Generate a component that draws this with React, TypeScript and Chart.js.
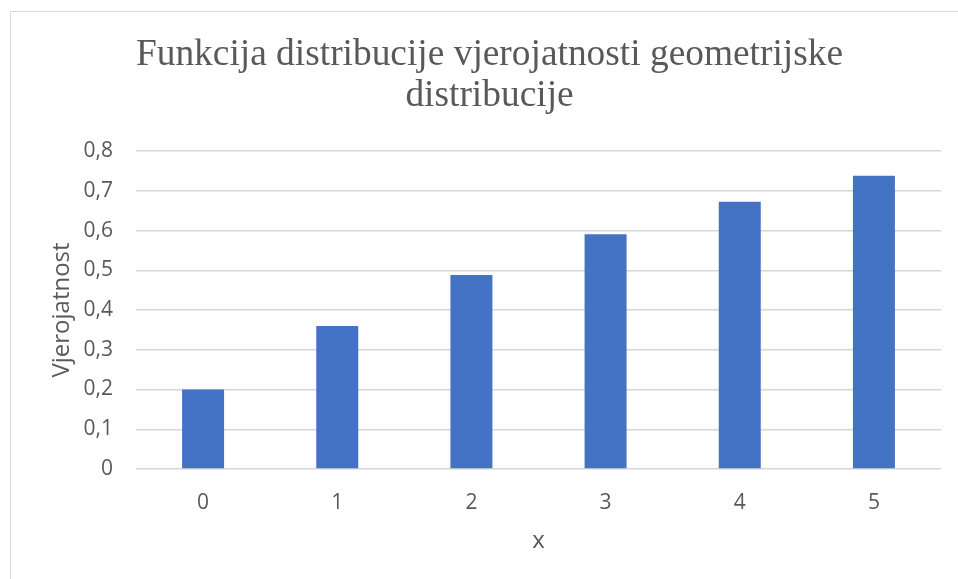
import React, { useEffect, useRef } from "react";
import { Chart, registerables } from "chart.js";

Chart.register(...registerables);

const categories = ["0", "1", "2", "3", "4", "5"];
const probabilities = [0.2, 0.36, 0.488, 0.5904, 0.67232, 0.737856];
const yTickLabels = ["0", "0,1", "0,2", "0,3", "0,4", "0,5", "0,6", "0,7", "0,8"];
const titleLines = ["Funkcija distribucije vjerojatnosti geometrijske", "distribucije"];
const yTitle = "Vjerojatnost";
const xTitle = "x";

export default function App() {
  const ref = useRef<HTMLCanvasElement | null>(null);

  useEffect(() => {
    if (!ref.current) return;
    const chart = new Chart(ref.current, {
      type: "bar",
      data: {
        labels: categories,
        datasets: [
          {
            data: probabilities,
            backgroundColor: "#4472C4",
            borderWidth: 0,
            categoryPercentage: 1,
            barPercentage: 0.313,
          },
        ],
      },
      options: {
        responsive: false,
        animation: false,
        layout: { padding: { left: 27, right: 28, top: 0, bottom: 0 } },
        plugins: {
          legend: { display: false },
          tooltip: { enabled: false },
          title: {
            display: true,
            text: titleLines,
            color: "#595959",
            font: { family: "'Liberation Serif', 'Times New Roman', serif", size: 37.4, weight: "normal", lineHeight: 1.11 },
            padding: { top: 22, bottom: 34 },
          },
        },
        scales: {
          x: {
            grid: { display: false, drawTicks: false },
            border: { display: false },
            ticks: {
              color: "#595959",
              font: { family: "'Open Sans', sans-serif", size: 21 },
              padding: 21,
            },
            title: {
              display: true,
              text: xTitle,
              color: "#595959",
              font: { family: "'Open Sans', sans-serif", size: 24 },
              padding: { top: 0, bottom: 22.6 },
            },
            afterFit: (scale: any) => {
              scale.height = 109;
            },
          },
          y: {
            min: 0,
            max: 0.8,
            grid: { color: "#D6D6D6", lineWidth: 1.5, drawTicks: false },
            border: { display: false },
            ticks: {
              stepSize: 0.1,
              color: "#595959",
              font: { family: "'Open Sans', sans-serif", size: 21 },
              padding: 23,
              callback: (_v: any, i: number) => yTickLabels[i],
            },
            title: {
              display: true,
              text: yTitle,
              color: "#595959",
              font: { family: "'Open Sans', sans-serif", size: 24 },
              padding: { top: 9.6, bottom: 0 },
            },
            afterFit: (scale: any) => {
              scale.width = 98;
            },
          },
        },
      },
    });
    return () => chart.destroy();
  }, []);

  return (
    <div
      style={{
        position: "fixed",
        left: 10,
        top: 11,
        width: 958,
        height: 570,
        border: "1px solid #D9D9D9",
        background: "#fff",
        overflow: "hidden",
      }}
    >
      <canvas ref={ref} width={958} height={566} style={{ display: "block" }} />
    </div>
  );
}
